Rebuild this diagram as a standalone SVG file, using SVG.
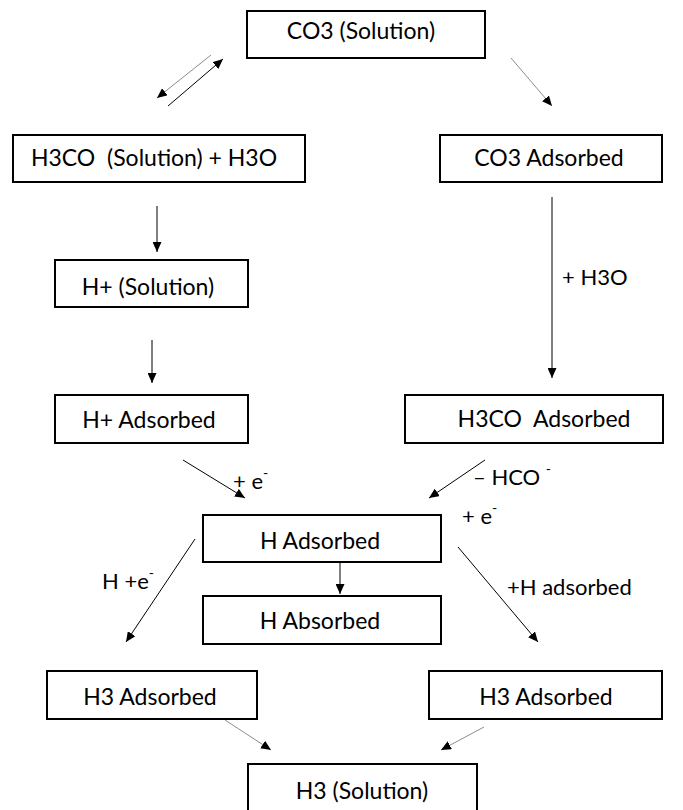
<svg xmlns="http://www.w3.org/2000/svg" width="683" height="810" viewBox="0 0 683 810">
<style>
  .box { fill: #ffffff; stroke: #000000; stroke-width: 2; }
  .t { font-family: Lato, "Open Sans", "Liberation Sans", sans-serif; font-size: 23px; fill: #000000; text-anchor: middle; white-space: pre; }
  .lbl { font-family: Lato, "Open Sans", "Liberation Sans", sans-serif; font-size: 22px; fill: #000000; white-space: pre; }
  .sup { font-size: 14px; }
  .c { fill: none; stroke: #000000; stroke-width: 1; marker-end: url(#ah); }
  .g { stroke: #8c8c8c; }
</style>
<defs>
  <marker id="ah" markerUnits="userSpaceOnUse" markerWidth="11" markerHeight="9" refX="10" refY="4.5" orient="auto">
    <path d="M0,0 L10,4.5 L0,9 z" fill="#000000"/>
  </marker>
</defs>
<rect width="683" height="810" fill="#ffffff"/>
<g id="connectors">
  <line class="c g" x1="211" y1="55" x2="157" y2="98"/>
  <line class="c" x1="168" y1="106" x2="223" y2="59"/>
  <line class="c g" x1="511" y1="58" x2="552" y2="106"/>
  <line class="c" x1="157" y1="206" x2="157" y2="252"/>
  <line class="c" x1="152" y1="340" x2="152" y2="383"/>
  <line class="c" x1="552" y1="197" x2="552" y2="378"/>
  <line class="c" x1="183" y1="460" x2="245" y2="498"/>
  <line class="c" x1="485" y1="460" x2="429" y2="498"/>
  <line class="c" x1="340" y1="562" x2="340" y2="594"/>
  <line class="c" x1="195" y1="539" x2="126" y2="642"/>
  <line class="c" x1="458" y1="547" x2="538" y2="642"/>
  <line class="c g" x1="225" y1="720" x2="271" y2="750"/>
  <line class="c g" x1="484" y1="727" x2="441" y2="750"/>
  <text class="lbl" x="562" y="285">+ H3O</text>
  <text class="lbl" x="233" y="489">+ e<tspan class="sup" dy="-11">-</tspan></text>
  <text class="lbl" x="473" y="485">– HCO <tspan class="sup" dy="-11">-</tspan></text>
  <text class="lbl" x="462" y="524">+ e<tspan class="sup" dy="-11">-</tspan></text>
  <text class="lbl" x="102" y="589">H +e<tspan class="sup" dy="-11">-</tspan></text>
  <text class="lbl" x="507" y="595">+H adsorbed</text>
</g>
<g id="n1"><rect class="box" x="247" y="11" width="238" height="47"/><text class="t" x="361" y="39">CO3 (Solution)</text></g>
<g id="n2"><rect class="box" x="13" y="135" width="292" height="47"/><text class="t" x="154" y="166">H3CO  (Solution) + H3O</text></g>
<g id="n3"><rect class="box" x="440" y="135" width="222" height="47"/><text class="t" x="549" y="166">CO3 Adsorbed</text></g>
<g id="n4"><rect class="box" x="55" y="260" width="193" height="47"/><text class="t" x="148" y="295">H+ (Solution)</text></g>
<g id="n5"><rect class="box" x="55" y="395" width="193" height="48"/><text class="t" x="149" y="428">H+ Adsorbed</text></g>
<g id="n6"><rect class="box" x="405" y="395" width="258" height="48"/><text class="t" x="544" y="427">H3CO  Adsorbed</text></g>
<g id="n7"><rect class="box" x="203" y="515" width="238" height="47"/><text class="t" x="320" y="549">H Adsorbed</text></g>
<g id="n8"><rect class="box" x="203" y="596" width="238" height="48"/><text class="t" x="320" y="629">H Absorbed</text></g>
<g id="n9"><rect class="box" x="47" y="671" width="210" height="48"/><text class="t" x="150" y="705">H3 Adsorbed</text></g>
<g id="n10"><rect class="box" x="429" y="671" width="233" height="48"/><text class="t" x="546" y="705">H3 Adsorbed</text></g>
<g id="n11"><rect class="box" x="248" y="764" width="229" height="48"/><text class="t" x="362" y="799">H3 (Solution)</text></g>
</svg>
